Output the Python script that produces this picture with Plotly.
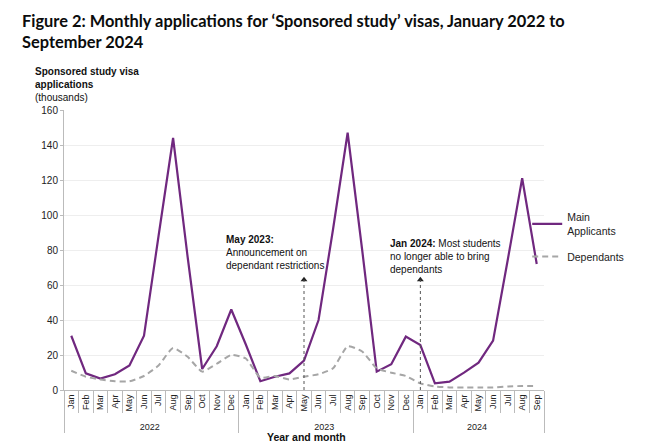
import plotly.graph_objects as go

years = ["2022"] * 12 + ["2023"] * 12 + ["2024"] * 9
months = ["Jan", "Feb", "Mar", "Apr", "May", "Jun", "Jul", "Aug", "Sep", "Oct", "Nov", "Dec"] * 2 + \
         ["Jan", "Feb", "Mar", "Apr", "May", "Jun", "Jul", "Aug", "Sep"]

main_applicants = [31, 9.5, 6.5, 9, 14, 31, 88, 144, 76, 12, 25, 46,
                   26, 5, 7.6, 9.5, 16.8, 40, 92, 147, 80, 10.5, 14.7, 30.5,
                   25.7, 3.8, 4.8, 9.9, 15.6, 28.2, 74, 121, 72]
dependants = [11, 7.6, 6, 5, 5, 8, 14, 24, 19, 10.5, 15, 20,
              18, 7, 8, 6, 7.6, 9, 12.4, 25, 22, 12.4, 9.9, 8,
              3.8, 2, 1.5, 1.5, 1.5, 1.5, 2, 2.3, 2.3]

event_index = [16, 24]  # May 2023, Jan 2024
event_top = [63, 63]

PURPLE = "#70287f"
GREY = "#a6a6a6"
FONT = "Liberation Sans, Arial, sans-serif"

fig = go.Figure()
fig.add_trace(go.Scatter(x=[years, months], y=main_applicants, mode="lines",
                         name="Main<br>Applicants", legendgroup="main",
                         line=dict(color=PURPLE, width=2.2)))
fig.add_trace(go.Scatter(x=[years, months], y=dependants, mode="lines",
                         name="Dependants", legendgroup="dep",
                         line=dict(color=GREY, width=2, dash="6px,4px",
                                   shape="spline", smoothing=0.5)))

for i, top in zip(event_index, event_top):
    fig.add_shape(type="line", xref="x", yref="y", x0=i, x1=i, y0=0, y1=top,
                  line=dict(color="#555555", width=1, dash="dot"))
    fig.add_trace(go.Scatter(x=[[years[i]], [months[i]]], y=[top], mode="markers",
                             marker=dict(symbol="triangle-up", size=6, color="#222222"),
                             showlegend=False, hoverinfo="skip"))

fig.update_layout(
    width=672, height=448,
    margin=dict(l=56, r=136, t=102, b=66),
    paper_bgcolor="white", plot_bgcolor="white",
    font=dict(family=FONT, size=10, color="#222222"),
    showlegend=True,
    legend=dict(x=0.965, y=0.665, xanchor="left", yanchor="top", bgcolor="rgba(0,0,0,0)",
                font=dict(size=10.5, family=FONT, color="#222222"), tracegroupgap=8,
                itemwidth=30),
)

fig.update_yaxes(range=[0, 160], dtick=20, showgrid=True, gridcolor="#eeeeee",
                 showline=True, linecolor="#bbbbbb", ticks="outside", ticklen=3,
                 tickcolor="#bbbbbb", zeroline=False, tickfont=dict(size=10))
fig.update_xaxes(type="multicategory", range=[-0.5, len(months) - 0.5],
                 showline=True, linecolor="#bbbbbb",
                 ticks="outside", tickcolor="#bbbbbb", ticklen=22, tickangle=-90,
                 showdividers=True, dividercolor="#bbbbbb", dividerwidth=1,
                 tickfont=dict(size=9), automargin=False, showgrid=False)


def px(xp, yp):
    # screen pixel -> paper coords
    return (xp - 64) / (544 - 64), (390 - yp) / (390 - 110)


tx, ty = px(20, 9)
fig.add_annotation(xref="paper", yref="paper", x=tx, y=ty, xanchor="left", yanchor="top",
                   align="left", showarrow=False,
                   text="<b>Figure 2: Monthly applications for ‘Sponsored study’ visas, January 2022 to<br>September 2024</b>",
                   font=dict(family="Lato, Noto Sans, sans-serif", size=16.4, color="#0b0c0c"))
ax_, ay_ = px(33, 64)
fig.add_annotation(xref="paper", yref="paper", x=ax_, y=ay_, xanchor="left", yanchor="top",
                   align="left", showarrow=False,
                   text="<b>Sponsored study visa<br>applications</b><br>(thousands)",
                   font=dict(family=FONT, size=10, color="#111111"))
xt, yt = px(306, 437)
fig.add_annotation(xref="paper", yref="paper", x=xt, y=yt, xanchor="center", yanchor="middle",
                   showarrow=False, text="<b>Year and month</b>",
                   font=dict(family=FONT, size=10.5, color="#111111"))
a1x, a1y = px(224, 232)
fig.add_annotation(xref="paper", yref="paper", x=a1x, y=a1y, xanchor="left", yanchor="top",
                   align="left", showarrow=False,
                   text="<b>May 2023:</b><br>Announcement on<br>dependant restrictions",
                   font=dict(family=FONT, size=10, color="#111111"))
a2x, a2y = px(388, 236)
fig.add_annotation(xref="paper", yref="paper", x=a2x, y=a2y, xanchor="left", yanchor="top",
                   align="left", showarrow=False,
                   text="<b>Jan 2024:</b> Most students<br>no longer able to bring<br>dependants",
                   font=dict(family=FONT, size=10, color="#111111"))

fig.write_html("out.html")
